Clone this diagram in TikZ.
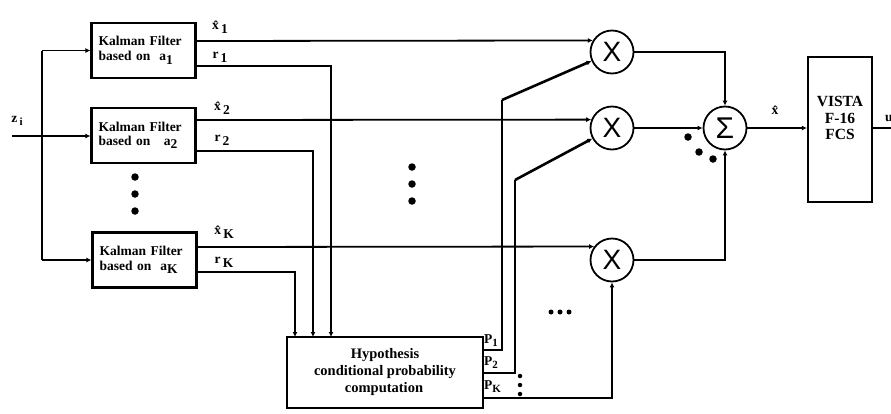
\documentclass[tikz,border=0pt]{standalone}
\usepackage{fontspec}
\setmainfont{Liberation Serif}
\newfontfamily\xsans{Liberation Sans}
\usetikzlibrary{arrows.meta}
\begin{document}
\begin{tikzpicture}[x=1pt,y=-1pt,
  box/.style={draw, line width=2.2pt, inner sep=0pt},
  kf/.style={box, minimum width=104pt, minimum height=55pt, text width=90pt, align=left,
    font=\bfseries\fontsize{13.5}{14.5}\selectfont},
  conn/.style={line width=1.8pt},
  arr/.style={conn,-{Latex[length=5pt,width=5pt]}},
  op/.style={draw, circle, line width=1.8pt, minimum size=43pt, inner sep=0pt,
    font=\xsans\fontsize{28}{28}\selectfont},
  lab/.style={font=\bfseries\fontsize{13.5}{13.5}\selectfont, inner sep=0pt},
  sub/.style={},
  bigdot/.style={fill, circle, inner sep=0pt, minimum size=7.5pt},
  smalldot/.style={fill, circle, inner sep=0pt, minimum size=4.5pt}]
\useasboundingbox (0,0) rectangle (891,413);

% Kalman filter boxes
\node[kf] (kf1) at (143.5,50.5) {Kalman Filter\\based on\ \ a\raisebox{-0.7ex}{1}};
\node[kf] (kf2) at (143.5,135.5) {Kalman Filter\\based on\ \ \ a\raisebox{-0.5ex}{2}};
\node[kf] (kfK) at (144.5,260) {Kalman Filter\\based on\ \ a\raisebox{-0.6ex}{K}};

% hypothesis box
\node[box, minimum width=196pt, minimum height=71pt, align=center,
  font=\bfseries\fontsize{14.5}{17}\selectfont] (hyp) at (385,372.5)
  {Hypothesis\\conditional probability\\computation\hspace*{2pt}};

% VISTA box
\node[box, minimum width=64pt, minimum height=145pt, align=center,
  font=\bfseries\fontsize{15.5}{16.5}\selectfont] (vista) at (840,129.5) {VISTA\\F-16\\FCS\\[6pt]};

% multipliers and summer
\node[op] (x1) at (612,52) {X};
\node[op] (x2) at (612,128) {X};
\node[op] (x3) at (612,260) {X};
\node[op, font=\xsans\fontsize{30}{30}\selectfont] (sig) at (725,128) {Σ};

% input
\coordinate (zin) at (12,136);
\coordinate (bt) at (42,50.5);
\coordinate (bb) at (42,260);
\draw[arr] (zin) -- (kf2.west |- zin);
\draw[conn] (bt) -- (bb);
\draw[arr] (bt) -- (kf1.west);
\draw[arr] (bb) -- (kfK.west);
\node[lab] (zl) at (17,121) {z\,\raisebox{-0.5ex}{\fontsize{11}{11}\selectfont i}};

% state estimates to multipliers
\draw[arr] ([yshift=9.5pt]kf1.east) -- (x1.149);
\draw[arr] ([yshift=15.5pt]kf2.east) -- (x2.158);
\draw[arr] ([yshift=13pt]kfK.east) -- (x3.143);

% residuals to hypothesis box
\coordinate (r1x) at (331,337);
\coordinate (r2x) at (313,337);
\coordinate (rKx) at (295,337);
\draw[arr] ([yshift=-15.5pt]kf1.east) -| (r1x);
\draw[arr] ([yshift=-15.5pt]kf2.east) -| (r2x);
\draw[arr] ([yshift=-12pt]kfK.east) -| (rKx);

% labels on filter outputs
\node[lab] (lx1) at (220,27) {\^{x}\,\raisebox{-0.6ex}{1}};
\node[lab] (lr1) at (220,57) {r\,\raisebox{-0.6ex}{1}};
\node[lab] (lx2) at (222,108) {\^{x}\,\raisebox{-0.6ex}{2}};
\node[lab] (lr2) at (222,140) {r\,\raisebox{-0.6ex}{2}};
\node[lab] (lxK) at (224,232) {\^{x}\,\raisebox{-0.6ex}{K}};
\node[lab] (lrK) at (224,262) {r\,\raisebox{-0.6ex}{K}};

% probabilities to multipliers
\coordinate (p1a) at (502,350);
\coordinate (p1b) at (502,100);
\coordinate (p2a) at (515,373);
\coordinate (p2b) at (515,180);
\coordinate (pKa) at (612,398);
\draw[conn] (hyp.east |- p1a) -- (p1a) -- (p1b);
\draw[arr, line width=2.6pt] (p1b) -- (x1);
\draw[conn] (hyp.east |- p2a) -- (p2a) -- (p2b);
\draw[arr, line width=2.6pt] (p2b) -- (x2);
\draw[arr] (hyp.east |- pKa) -| (x3);
\node[lab, anchor=west] (lp1) at (484,341) {P\raisebox{-0.5ex}{\fontsize{11}{11}\selectfont 1}};
\node[lab, anchor=west] (lp2) at (484,363) {P\raisebox{-0.5ex}{\fontsize{11}{11}\selectfont 2}};
\node[lab, anchor=west] (lpK) at (484,387) {P\raisebox{-0.5ex}{\fontsize{11}{11}\selectfont K}};

% multipliers to summer
\draw[arr] (x1) -| (sig);
\draw[arr] (x2) -- (sig);
\draw[arr] (x3) -| (sig);

% summer to VISTA and output
\draw[arr] (sig) -- (vista.west |- sig);
\node[lab] (lxh) at (775,110) {\^{x}};
\coordinate (uout) at (891,128);
\draw[conn] (vista.east |- sig) -- (uout);
\node[lab, anchor=west] (lu) at (885,118) {u};

% ellipsis dots
\node[bigdot] (d1) at (135,177) {};
\node[bigdot] (d2) at (135,194) {};
\node[bigdot] (d3) at (135,211) {};
\node[bigdot] (m1) at (412,167) {};
\node[bigdot] (m2) at (412,184) {};
\node[bigdot] (m3) at (412,201) {};
\node[bigdot] (s1) at (688,137) {};
\node[bigdot] (s2) at (699,152) {};
\node[bigdot] (s3) at (713,159) {};
\node[smalldot, minimum size=5pt] (h1) at (551,312) {};
\node[smalldot, minimum size=5pt] (h2) at (560,312) {};
\node[smalldot, minimum size=5pt] (h3) at (569,312) {};
\node[smalldot] (v1) at (520,376) {};
\node[smalldot] (v2) at (520,385) {};
\node[smalldot] (v3) at (520,394) {};
\end{tikzpicture}
\end{document}
